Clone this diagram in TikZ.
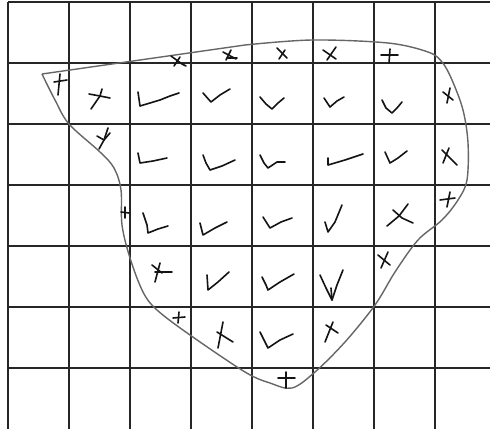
\documentclass[tikz,border=0pt]{standalone}
\begin{document}
\begin{tikzpicture}[x=1pt,y=-1pt,
  gridline/.style={line width=1.8pt,draw=black!85},
  outline/.style={line width=1.4pt,draw=black!60,line join=round},
  mk/.style={line width=1.6pt,draw=black!92,line join=round,line cap=round}]
\useasboundingbox (0,0) rectangle (490,429);
\fill[white] (0,0) rectangle (490,429);
% grid
\foreach \k in {0,...,7} {\draw[gridline] ({8+61*\k},2) -- ({8+61*\k},429);}
\foreach \k in {0,...,6} {\draw[gridline] (8,{2+61*\k}) -- (490,{2+61*\k});}
% outline of the region
\draw[outline] (42,74) -- (245,45) -- plot[smooth,tension=0.55] coordinates {
 (245,45) (312,40) (388,43) (428,52) (442,62) (452,80) (463,110) (468,143)
 (467,180) (458,200) (442,220) (418,240) (395,272) (375,305) (345,342)
 (315,372) (292,388) (270,383) (245,372) (190,335) (157,310) (143,292)
 (130,258) (122,225) (121,190) (114,168) (100,152) (69,124) (55,100) (42,74)};
% row 0
\draw[mk] (171,56) -- (182,64) -- (186,66); \draw[mk] (180,57) -- (174,66);
\draw[mk] (223,52) -- (236,59); \draw[mk] (231,50) -- (226,60); \draw[mk] (228,58) -- (237,58);
\draw[mk] (277,48) -- (287,58); \draw[mk] (285,50) -- (279,59);
\draw[mk] (323,50) -- (336,59); \draw[mk] (336,47) -- (327,60);
\draw[mk] (381,55) -- (398,55); \draw[mk] (390,49) -- (389,63);
% row 1
\draw[mk] (54,82) -- (67,80); \draw[mk] (60,74) -- (58,95);
\draw[mk] (89,94) -- (100,96) -- (110,98); \draw[mk] (102,89) -- (100,96) -- (91,109);
\draw[mk] (138,92) -- (140,106) -- (150,103) -- (160,100) -- (170,96) -- (179,93);
\draw[mk] (203,93) -- (211,102) -- (220,95) -- (230,89);
\draw[mk] (260,97) -- (266,104) -- (272,109) -- (278,103) -- (284,98);
\draw[mk] (324,98) -- (330,107) -- (337,101) -- (344,97);
\draw[mk] (382,100) -- (386,108) -- (392,113) -- (397,108) -- (402,102);
\draw[mk] (443,92) -- (453,100); \draw[mk] (450,88) -- (447,103);
% row 2
\draw[mk] (97,136) -- (104,140) -- (110,133); \draw[mk] (108,128) -- (104,140) -- (99,149);
\draw[mk] (138,153) -- (140,163) -- (153,161) -- (167,158);
\draw[mk] (203,155) -- (206,163) -- (210,170) -- (222,166) -- (235,160);
\draw[mk] (260,155) -- (264,163) -- (268,168) -- (277,162) -- (285,162);
\draw[mk] (328,158) -- (328,165) -- (345,160) -- (363,154);
\draw[mk] (385,152) -- (390,163) -- (398,158) -- (407,151);
\draw[mk] (442,150) -- (450,158) -- (457,165); \draw[mk] (449,148) -- (443,163);
% row 3
\draw[mk] (121,212) -- (129,213); \draw[mk] (125,207) -- (125,218);
\draw[mk] (143,213) -- (147,225) -- (148,233) -- (158,229) -- (168,226);
\draw[mk] (200,223) -- (203,235) -- (215,228) -- (227,222);
\draw[mk] (263,217) -- (270,228) -- (281,222) -- (292,218);
\draw[mk] (325,222) -- (328,232) -- (335,222) -- (342,205);
\draw[mk] (387,226) -- (399,216) -- (408,204); \draw[mk] (393,210) -- (402,218) -- (413,223);
\draw[mk] (440,200) -- (455,198); \draw[mk] (450,192) -- (447,207);
% row 4
\draw[mk] (155,272) -- (172,272); \draw[mk] (152,265) -- (162,273); \draw[mk] (160,263) -- (155,282);
\draw[mk] (207,275) -- (208,290) -- (218,282) -- (229,272);
\draw[mk] (262,277) -- (266,285) -- (268,290) -- (280,282) -- (294,274);
\draw[mk] (320,275) -- (326,288) -- (332,300) -- (337,285) -- (343,270); \draw[mk] (332,300) -- (331,288);
\draw[mk] (378,255) -- (390,265); \draw[mk] (388,252) -- (381,268);
% row 5
\draw[mk] (173,318) -- (185,317); \draw[mk] (179,312) -- (178,323);
\draw[mk] (223,322) -- (218,348); \draw[mk] (217,332) -- (233,342);
\draw[mk] (260,332) -- (268,348) -- (280,340) -- (293,334);
\draw[mk] (326,325) -- (338,333); \draw[mk] (333,322) -- (325,342);
% row 6
\draw[mk] (278,378) -- (295,378); \draw[mk] (286,372) -- (286,388);
\end{tikzpicture}
\end{document}
